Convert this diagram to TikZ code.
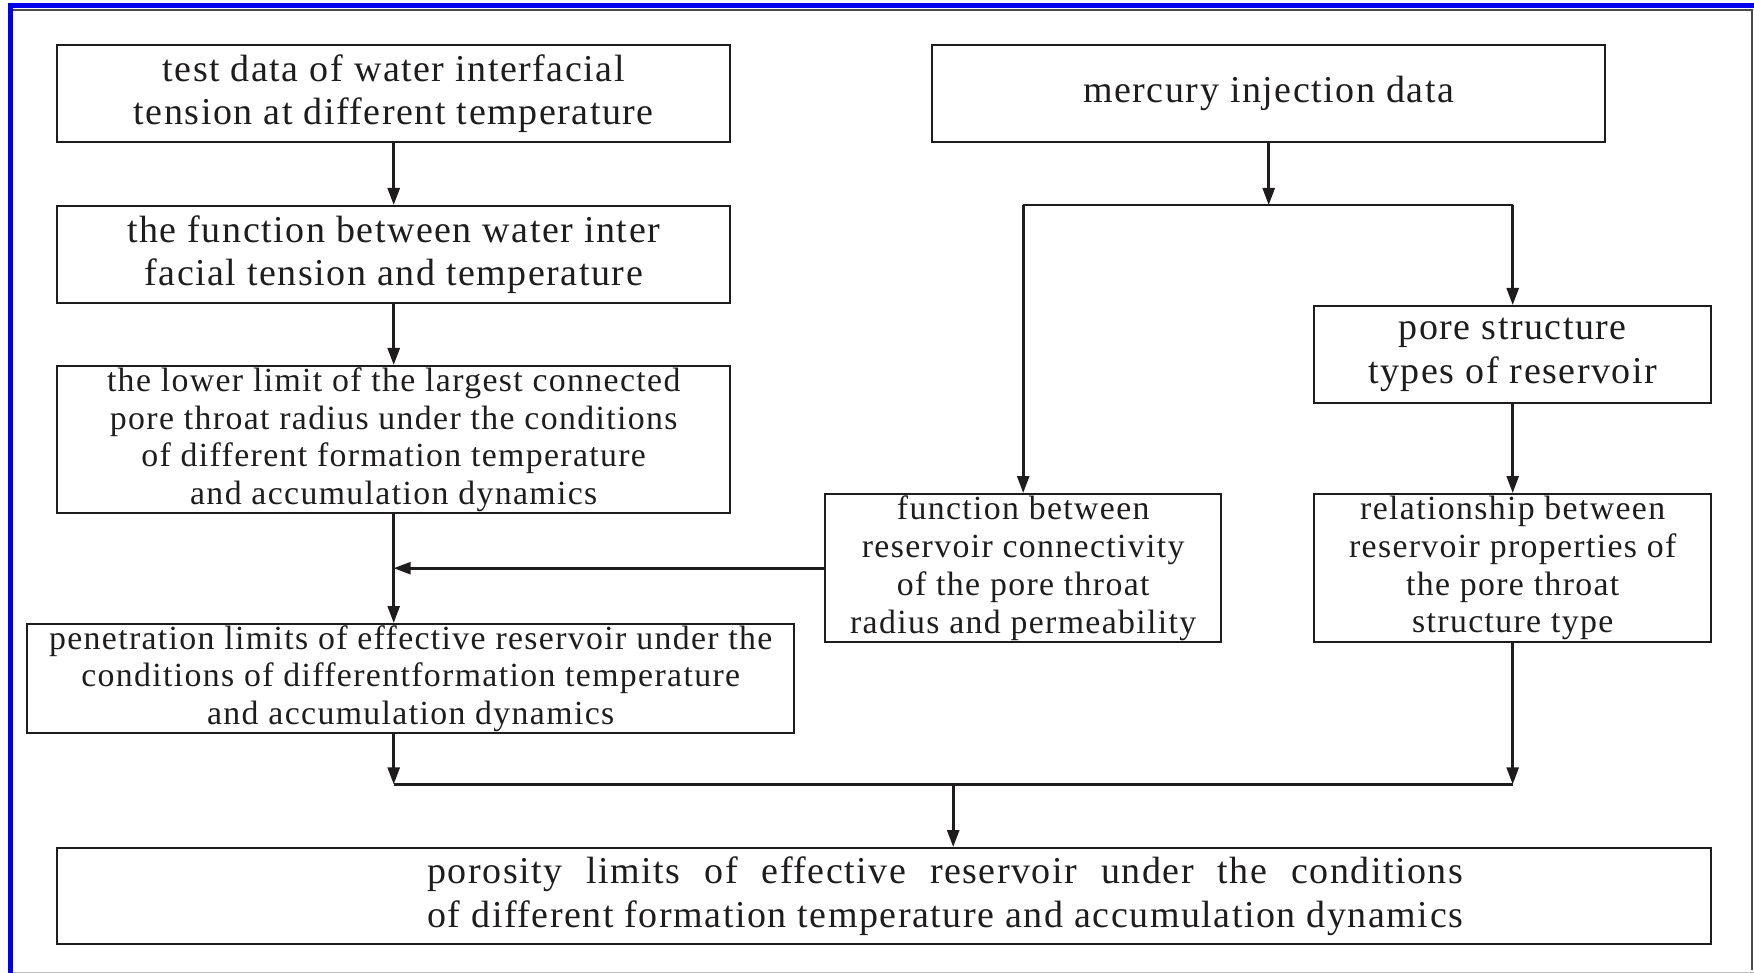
\documentclass[tikz,border=0pt]{standalone}
\usepackage{fontspec}
\setmainfont{Liberation Serif}[LetterSpace=4]
\usetikzlibrary{arrows.meta,calc}
\definecolor{ink}{HTML}{1E1C1C}
\definecolor{frameblue}{HTML}{0000F0}
\newlength\lastlinew
\newcommand\porotwo{of different formation temperature and accumulation dynamics}
\tikzset{
  boxbig/.style={draw=ink, line width=2.4pt, rectangle, inner sep=0pt, anchor=north west, align=center, text=ink,
    font=\fontsize{38}{43.6}\selectfont},
  boxsmall/.style={boxbig, font=\fontsize{33.8}{37.7}\selectfont},
  link/.style={draw=ink, line width=2.6pt},
  arr/.style={link, -{Triangle[length=17pt,width=12pt]}},
}
\begin{document}
\begin{tikzpicture}[x=1pt,y=-1pt]
\useasboundingbox (0,0) rectangle (1754,973);
% frame
\fill[frameblue] (8,3) rectangle (1754,8);
\fill[frameblue] (8,3) rectangle (12.5,973);
\draw[ink!80, line width=1.2pt] (12.5,10) -- (1752,10) -- (1752,970);
\draw[black!25, line width=1pt] (12.5,972) -- (1754,972);
% boxes
\node[boxbig, minimum width=673pt, minimum height=97pt] (b1) at (56,44)
  {test data of water interfacial\\tension at different temperature};
\node[boxbig, minimum width=673pt, minimum height=97pt] (b2) at (56,205)
  {the function between water inter\\facial tension and temperature};
\node[boxsmall, minimum width=673pt, minimum height=147pt] (b3) at (56,365)
  {the lower limit of the largest connected\\pore throat radius under the conditions\\of different formation temperature\\and accumulation dynamics};
\node[boxsmall, minimum width=767pt, minimum height=109pt] (b4) at (26,623)
  {penetration limits of effective reservoir under the\\conditions of differentformation temperature\\and accumulation dynamics};
\node[boxbig, minimum width=673pt, minimum height=97pt] (b5) at (931,44)
  {mercury injection data};
\node[boxbig, minimum width=397pt, minimum height=97pt] (b6) at (1313,305)
  {pore structure\\types of reservoir};
\node[boxsmall, minimum width=396pt, minimum height=148pt] (b7) at (824,493)
  {function between\\reservoir connectivity\\of the pore throat\\radius and permeability};
\node[boxsmall, minimum width=397pt, minimum height=148pt] (b8) at (1313,493)
  {relationship between\\reservoir properties of\\the pore throat\\structure type};
\node[boxbig, minimum width=1654pt, minimum height=96pt] (b9) at (56,847)
  {\settowidth\lastlinew{\porotwo}%
   \hspace*{122pt}\makebox[\lastlinew][s]{porosity limits of effective reservoir under the conditions}\\
   \hspace*{122pt}\porotwo};
% connectors
\draw[arr] (b1.south) -- (b2.north);
\draw[arr] (b2.south) -- (b3.north);
\draw[arr] (b3.south) -- (b3.south |- b4.north);
\draw[arr] (b7.west) -- (b7.west -| b3.south);
\path (b7.north) ++(0,-288) coordinate (tl);
\path (b6.north) ++(0,-100) coordinate (tr);
\draw[link] (tl) -- (tr);
\draw[arr] (b5.south) -- (b5.south |- tl);
\draw[arr] (tl) -- (b7.north);
\draw[arr] (tr) -- (b6.north);
\draw[arr] (b6.south) -- (b8.north);
\path (b3.south) ++(0,270) coordinate (bl);
\path (b8.south) ++(0,141) coordinate (br);
\draw[link] (bl) -- (br);
\draw[arr] (bl |- b4.south) -- (bl);
\draw[arr] (b8.south) -- (br);
\path (bl) ++(559.5,0) coordinate (bm);
\draw[arr] (bm) -- (bm |- b9.north);
\end{tikzpicture}
\end{document}
